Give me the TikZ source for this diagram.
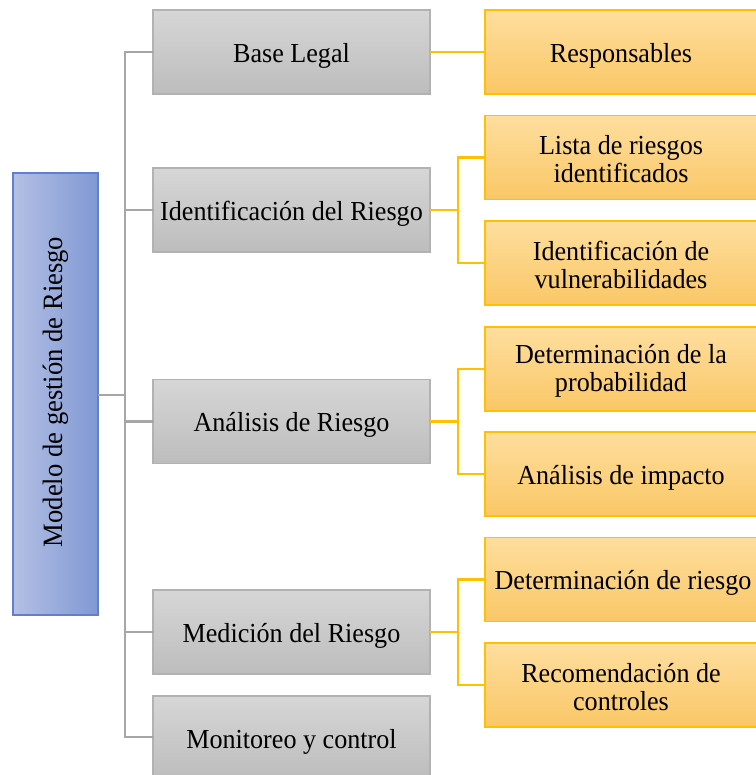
\documentclass[tikz,border=0pt]{standalone}
\usepackage{fontspec}
\setmainfont{Liberation Serif}[FakeStretch=0.95]
\begin{document}
\begin{tikzpicture}[x=1pt,y=-1pt,
  every node/.style={font=\fontsize{27.5}{28}\selectfont},
  txt/.style={align=center, text=black, yshift=-3.5pt, inner sep=0pt},
  txtm/.style={align=center, text=black, yshift=-2pt, inner sep=0pt},
  graybox/.style={rectangle, draw=black!30, line width=1.2pt, top color=black!16, bottom color=black!26, minimum width=277pt, minimum height=84pt, inner sep=0pt},
  orangebox/.style={rectangle, draw={rgb,255:red,255;green,192;blue,0}, line width=1.2pt, top color={rgb,255:red,254;green,222;blue,158}, bottom color={rgb,255:red,250;green,199;blue,102}, minimum width=272pt, minimum height=84pt, inner sep=0pt},
  rootbox/.style={rectangle, draw={rgb,255:red,95;green,128;blue,204}, line width=1.2pt, left color={rgb,255:red,180;green,192;blue,228}, right color={rgb,255:red,128;green,152;blue,212}, minimum width=85pt, minimum height=442pt, inner sep=0pt},
  gline/.style={draw={rgb,255:red,166;green,166;blue,166}, line width=2.2pt, line cap=rect},
  oline/.style={draw={rgb,255:red,255;green,192;blue,0}, line width=2.2pt, line cap=rect}]
\useasboundingbox (0,0) rectangle (755,775);

% root
\node[rootbox] (root) at (55.5,394) {};
\node[rotate=90, xshift=2pt, font=\fontsize{28}{28}\selectfont] (roottext) at (root.center) {Modelo de gestión de Riesgo};

% gray column
\node[graybox, label={[txt]center:Base Legal}] (base) at (291.5,52) {};
\node[graybox, label={[txt]center:Identificación del Riesgo}] (ident) at (291.5,210) {};
\node[graybox, label={[txt]center:Análisis de Riesgo}] (anal) at (291.5,421.5) {};
\node[graybox, label={[txt]center:Medición del Riesgo}] (medi) at (291.5,632) {};
\node[graybox, minimum height=82pt, label={[txt, yshift=-1pt]center:Monitoreo y control}] (moni) at (291.5,737) {};

% orange column
\node[orangebox, label={[txt]center:Responsables}] (resp) at (621,52) {};
\node[orangebox, label={[txtm]center:{Lista de riesgos\\identificados}}] (lista) at (621,157.5) {};
\node[orangebox, label={[txtm]center:{Identificación de\\vulnerabilidades}}] (vuln) at (621,263) {};
\node[orangebox, label={[txtm]center:{Determinación de la\\probabilidad}}] (prob) at (621,369) {};
\node[orangebox, label={[txt]center:Análisis de impacto}] (impa) at (621,474) {};
\node[orangebox, label={[txt, xshift=2pt]center:Determinación de riesgo}] (dries) at (621,579.5) {};
\node[orangebox, label={[txtm]center:{Recomendación de\\controles}}] (reco) at (621,685) {};

% gray trunk
\coordinate (tr) at (125,395);
\draw[gline] (root.east |- tr) -- (tr);
\draw[gline] (base.west) -- (tr |- base.west) -- (tr |- moni.west) -- (moni.west);
\foreach \n in {ident,anal,medi}
  \draw[gline] (tr |- \n.west) -- (\n.west);

% orange links
\draw[oline] (base.east) -- (resp.west);
\draw[oline] (ident.east) -- ++(27,0) coordinate (j1);
\draw[oline] (lista.west) -| (j1) |- (vuln.west);
\draw[oline] (anal.east) -- ++(27,0) coordinate (j2);
\draw[oline] (prob.west) -| (j2) |- (impa.west);
\draw[oline] (medi.east) -- ++(27,0) coordinate (j3);
\draw[oline] (dries.west) -| (j3) |- (reco.west);
\end{tikzpicture}
\end{document}
